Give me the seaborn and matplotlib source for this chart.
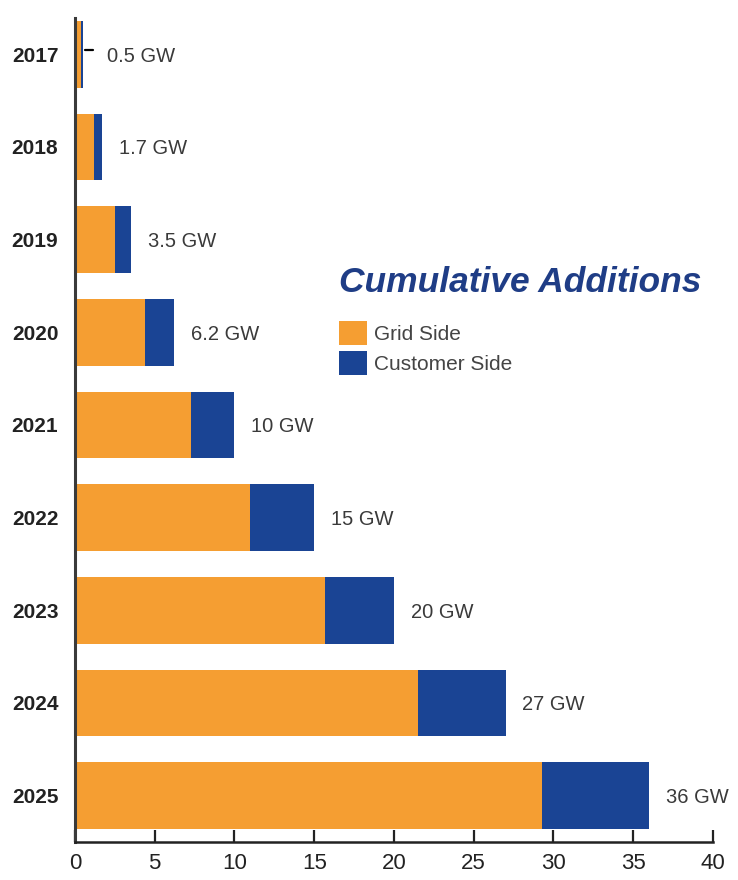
import matplotlib
matplotlib.use("Agg")
import matplotlib.pyplot as plt
import seaborn as sns
import pandas as pd
from matplotlib.patches import Patch

# Cumulative storage additions (GW) by year
years = ["2017", "2018", "2019", "2020", "2021", "2022", "2023", "2024", "2025"]
grid_side = [0.35, 1.2, 2.5, 4.4, 7.3, 11.0, 15.7, 21.5, 29.3]
total = [0.5, 1.7, 3.5, 6.2, 10, 15, 20, 27, 36]
x_ticks = [0, 5, 10, 15, 20, 25, 30, 35, 40]

ORANGE = "#F59E32"
BLUE = "#1A4494"
TITLE_BLUE = "#1F3D86"
TEXT_GREY = "#3a3a3a"

sns.set_theme(style="white")
plt.rcParams["font.family"] = ["Liberation Sans", "DejaVu Sans"]

df = pd.DataFrame({"year": years, "grid": grid_side, "total": total})

fig = plt.figure(figsize=(7.38, 8.8), dpi=100)
ax = fig.add_axes([0.1016, 0.0432, 0.8644, 0.9363])

# Total bar in blue (customer side shows beyond the grid portion), grid side on top
sns.barplot(data=df, x="total", y="year", orient="h", color=BLUE,
            width=0.72, saturation=1, ax=ax, linewidth=0)
sns.barplot(data=df, x="grid", y="year", orient="h", color=ORANGE,
            width=0.72, saturation=1, ax=ax, linewidth=0)

# Value labels at the end of each bar
for i, t in enumerate(total):
    offset = 1.5 if i == 0 else 1.05
    ax.text(t + offset, i + 0.02, f"{t:g} GW", va="center", ha="left",
            fontsize=14.5, color=TEXT_GREY)
# Short leader for the smallest bar
ax.plot([total[0] + 0.15, total[0] + 0.65], [-0.05, -0.05], color="black", lw=1.6)

ax.set_xlim(0, 40)
ax.set_ylim(8.5, -0.39)
ax.set_xticks(x_ticks)
ax.set_xticklabels([str(v) for v in x_ticks], fontsize=16, color="#222222")
ax.set_yticks(range(len(years)))
ax.set_yticklabels(years, fontsize=15, fontweight="bold", color="#222222")
ax.set_xlabel("")
ax.set_ylabel("")

ax.tick_params(axis="x", direction="in", length=9, width=1.6, color="#222222",
               pad=8, bottom=True, top=False)
ax.tick_params(axis="y", length=0, pad=12)

for side in ["top", "right"]:
    ax.spines[side].set_visible(False)
ax.spines["left"].set_color("#3a3a3a")
ax.spines["left"].set_linewidth(2.2)
ax.spines["bottom"].set_color("#222222")
ax.spines["bottom"].set_linewidth(1.8)

# Legend block with heading
handles = [Patch(facecolor=ORANGE, edgecolor="none", label="Grid Side"),
           Patch(facecolor=BLUE, edgecolor="none", label="Customer Side")]
leg = ax.legend(handles=handles, loc="upper left", bbox_to_anchor=(0.398, 0.712),
                frameon=False, fontsize=15, handlelength=1.35, handleheight=1.4,
                handletextpad=0.3, labelspacing=0.3, borderpad=0,
                title="Cumulative Additions", alignment="left")
for txt in leg.get_texts():
    txt.set_color("#444444")
title = leg.get_title()
title.set_fontsize(25.5)
title.set_fontweight("bold")
title.set_fontstyle("italic")
title.set_color(TITLE_BLUE)
leg._legend_box.sep = 16

fig.savefig("out.png", dpi=100, facecolor="white")
